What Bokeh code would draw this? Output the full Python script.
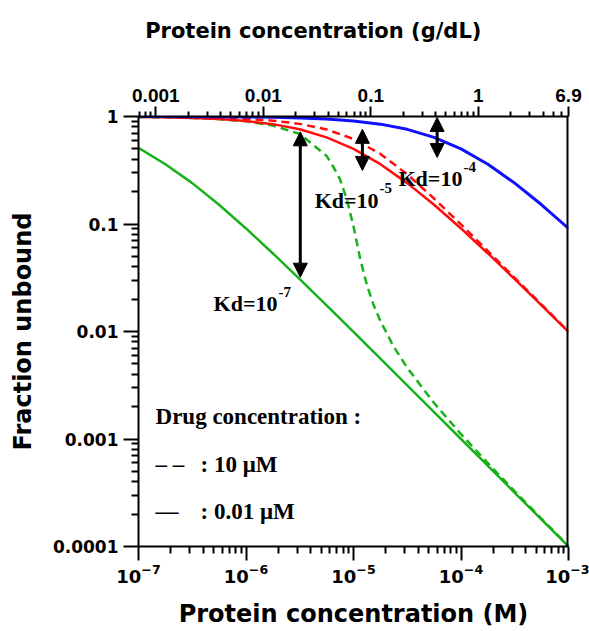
from bokeh.plotting import figure
from bokeh.models import (Range1d, LogAxis, LogScale, FixedTicker,
                          Arrow, NormalHead, Span, LogTickFormatter)
from bokeh.core.properties import value
from bokeh.embed import file_html
from bokeh.resources import INLINE

# ---------------- data ----------------
protein_M = [1.0e-7, 1.78e-7, 3.16e-7, 5.62e-7, 1.0e-6, 1.78e-6, 3.16e-6, 5.62e-6,
             1.0e-5, 1.78e-5, 3.16e-5, 5.62e-5, 1.0e-4, 1.78e-4, 3.16e-4, 5.62e-4, 1.0e-3]
fu_kd4_low = [0.999, 0.998, 0.997, 0.994, 0.99, 0.982, 0.969, 0.947, 0.909, 0.849, 0.76,
              0.64, 0.5, 0.36, 0.24, 0.151, 0.0909]
fu_kd5_low = [0.99, 0.982, 0.969, 0.947, 0.909, 0.849, 0.76, 0.64, 0.5, 0.36, 0.24,
              0.151, 0.0909, 0.0532, 0.0307, 0.0175, 0.0099]
fu_kd5_high = [0.995, 0.991, 0.984, 0.972, 0.951, 0.915, 0.854, 0.758, 0.618, 0.449, 0.29,
               0.1725, 0.099, 0.056, 0.0316, 0.0178, 0.01]
fu_kd7_low = [0.51, 0.36, 0.24, 0.151, 0.0909, 0.0532, 0.0307, 0.0175, 0.0099, 0.00559,
              0.00315, 0.00178, 0.001, 0.000562, 0.000316, 0.000178, 0.0001]

protein_M_dense = [1.0e-7, 1.78e-7, 3.16e-7, 5.62e-7, 1.0e-6, 1.78e-6, 3.16e-6, 5.62e-6,
                   6.49e-6, 7.5e-6, 8.66e-6, 1.0e-5, 1.155e-5, 1.334e-5, 1.54e-5, 1.78e-5,
                   2.37e-5, 3.16e-5, 5.62e-5, 1.0e-4, 1.78e-4, 3.16e-4, 5.62e-4, 1.0e-3]
fu_kd7_high = [0.99, 0.982, 0.969, 0.944, 0.901, 0.824, 0.688, 0.43, 0.34, 0.26, 0.17,
               0.0951, 0.0472, 0.027, 0.0176, 0.0125, 0.0072, 0.0046, 0.00216, 0.00111,
               0.000596, 0.000326, 0.000181, 0.000101]

albumin_mw = 69000.0  # g/mol, 1e-3 M <-> 6.9 g/dL
x_major = [1e-7, 1e-6, 1e-5, 1e-4, 1e-3]
y_major = [1e-4, 1e-3, 1e-2, 1e-1, 1.0]
y_labels = ["0.0001", "0.001", "0.01", "0.1", "1"]
gdl_major = [0.001, 0.01, 0.1, 1.0, 6.9]
gdl_labels = ["0.001", "0.01", "0.1", "1", "6.9"]

# arrows: x position, top and bottom fraction unbound
arrow_x = [3.2e-6, 1.21e-5, 6.0e-5]
arrow_top = [0.72, 0.76, 0.98]
arrow_bottom = [0.032, 0.315, 0.416]

# Kd labels: anchor at end of "Kd=10" (baseline)
kd_x = [1.96e-6, 1.71e-5, 1.03e-4]
kd_y = [0.0182, 0.1655, 0.265]
kd_exp = ["-7", "-5", "-4"]

legend_title = "Drug concentration :"
legend_items = [": 10 \u03bcM", ": 0.01 \u03bcM"]
legend_marks = ["\u2013 \u2013", "\u2014"]

# ---------------- figure ----------------
SERIF = value("Liberation Serif")
SANS = "DejaVu Sans"

p = figure(width=589, height=631, x_axis_type="log", y_axis_type="log",
           x_range=Range1d(1e-7, 1e-3), y_range=Range1d(1e-4, 1.0),
           output_backend="svg", toolbar_location=None,
           min_border_left=138, min_border_right=21, min_border_top=116,
           min_border_bottom=85)
p.outline_line_color = None
p.grid.visible = False
p.background_fill_color = "white"
p.border_fill_color = "white"


def minors(majors_lo, majors_hi):
    out = []
    d = majors_lo
    while d < majors_hi * 0.99:
        for m in range(2, 10):
            out.append(d * m)
        d *= 10
    return out


def style_axis(ax, tick_out, minor_out, label_size, title_size, label_font=SANS):
    ax.axis_line_width = 2
    ax.axis_line_color = "black"
    ax.major_tick_line_width = 2
    ax.minor_tick_line_width = 2
    ax.major_tick_line_color = "black"
    ax.minor_tick_line_color = "black"
    ax.major_tick_in = 0
    ax.minor_tick_in = 0
    ax.major_tick_out = tick_out
    ax.minor_tick_out = minor_out
    ax.major_label_text_font = label_font
    ax.major_label_text_font_style = "bold"
    ax.major_label_text_font_size = label_size
    ax.major_label_text_color = "black"
    ax.axis_label_text_font = SANS
    ax.axis_label_text_font_style = "bold"
    ax.axis_label_text_font_size = title_size
    ax.axis_label_text_color = "black"


# bottom axis
xa = p.xaxis[0]
xa.ticker = FixedTicker(ticks=x_major, minor_ticks=minors(1e-7, 1e-3))
xa.formatter = LogTickFormatter()
xa.axis_label = "Protein concentration (M)"
style_axis(xa, 14, 7, "18px", "24px")
xa.major_label_standoff = 3
xa.axis_label_standoff = 14

# left axis
ya = p.yaxis[0]
ya.ticker = FixedTicker(ticks=y_major, minor_ticks=minors(1e-4, 1.0))
ya.major_label_overrides = {t: s for t, s in zip(y_major, y_labels)}
ya.axis_label = "Fraction unbound"
style_axis(ya, 15, 7, "17px", "24px")
ya.major_label_standoff = 5
ya.axis_label_standoff = 13

# top axis in g/dL; the title sits left of centre, as in the original
gdl_lo = 1e-7 * albumin_mw / 10.0
gdl_hi = 1e-3 * albumin_mw / 10.0
p.extra_x_ranges = {"gdl": Range1d(gdl_lo, gdl_hi)}
p.extra_x_scales = {"gdl": LogScale()}
gdl_minor = [0.0007, 0.0008, 0.0009] + minors(0.001, 1.0) + [2, 3, 4, 5, 6]
top = LogAxis(x_range_name="gdl",
              ticker=FixedTicker(ticks=gdl_major, minor_ticks=gdl_minor),
              axis_label="Protein concentration (g/dL)" + "\u00a0" * 11)
top.major_label_overrides = {t: s for t, s in zip(gdl_major, gdl_labels)}
style_axis(top, 10, 5, "19px", "21px", label_font="Liberation Sans")
top.major_label_standoff = 5
top.axis_label_standoff = 43
p.add_layout(top, "above")

# right border (thick)
p.add_layout(Span(location=1e-3, dimension="height", line_color="black", line_width=4))

# ---------------- curves ----------------
GREEN = "#17b21a"
RED = "#ff0d0d"
BLUE = "#1010ff"
p.line(protein_M_dense, fu_kd7_high, line_color=GREEN, line_width=2.5, line_dash="8 5")
p.line(protein_M, fu_kd7_low, line_color=GREEN, line_width=2.5)
p.line(protein_M, fu_kd5_high, line_color=RED, line_width=2.5, line_dash="8 5")
p.line(protein_M, fu_kd5_low, line_color=RED, line_width=2.5)
p.line(protein_M, fu_kd4_low, line_color=BLUE, line_width=3)

# ---------------- arrows ----------------
for ax_, t_, b_ in zip(arrow_x, arrow_top, arrow_bottom):
    p.add_layout(Arrow(x_start=ax_, y_start=t_, x_end=ax_, y_end=b_,
                       line_width=3, line_color="black",
                       start=NormalHead(size=14, fill_color="black", line_color="black"),
                       end=NormalHead(size=14, fill_color="black", line_color="black")))

# ---------------- Kd labels ----------------
p.text(x=kd_x, y=kd_y, text=["Kd=10"] * 3, text_font=SERIF, text_font_style="bold",
       text_font_size="22px", text_align="right", text_baseline="alphabetic",
       text_color="black")
p.text(x=kd_x, y=kd_y, text=kd_exp, text_font=SERIF, text_font_style="bold",
       text_font_size="15px", text_align="left", text_baseline="alphabetic",
       text_color="black", x_offset=1, y_offset=-12)

# ---------------- legend text ----------------
leg_x = 1.44e-7
leg_x2 = 3.78e-7
leg_y = [1.62e-3, 5.79e-4, 2.12e-4]
p.text(x=[leg_x], y=[leg_y[0]], text=[legend_title], text_font=SERIF,
       text_font_style="bold", text_font_size="23px", text_baseline="alphabetic",
       text_color="black")
p.text(x=[leg_x, leg_x], y=leg_y[1:], text=legend_marks, text_font=SERIF,
       text_font_style="bold", text_font_size="23px", text_baseline="alphabetic",
       text_color="black")
p.text(x=[leg_x2, leg_x2], y=leg_y[1:], text=legend_items, text_font=SERIF,
       text_font_style="bold", text_font_size="23px", text_baseline="alphabetic",
       text_color="black")

open("out.html", "w").write(file_html(p, INLINE))
